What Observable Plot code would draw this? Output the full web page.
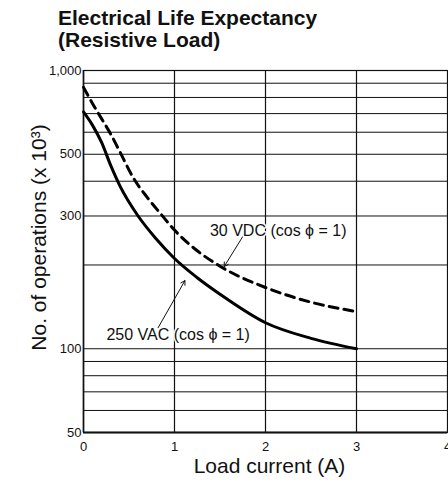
<!DOCTYPE html>
<html>
<head>
<meta charset="utf-8">
<script src="https://cdn.jsdelivr.net/npm/d3@7"></script>
<script src="https://cdn.jsdelivr.net/npm/@observablehq/plot@0.6"></script>
<style>
  html, body { margin: 0; padding: 0; background: #fff; }
  #title { font-family: "Liberation Sans", Arial, Helvetica, sans-serif; font-weight: bold;
           font-size: 21px; line-height: 22px; padding: 7px 0 0 58px; height: 42px; color: #111; }
  svg { display: block; }
</style>
</head>
<body>
<div id="title">Electrical Life Expectancy<br>(Resistive Load)</div>
<div id="chart"></div>
<script>
// Data
const acCurrent = [0, 0.1, 0.2, 0.3, 0.4, 0.6, 0.8, 1, 1.25, 1.5, 2, 2.5, 3];
const acOps     = [710, 635, 550, 455, 385, 300, 248, 211, 180, 157, 124, 109, 100];
const dcCurrent = [0, 0.1, 0.2, 0.3, 0.4, 0.55, 0.7, 0.85, 1, 1.25, 1.5, 2, 2.5, 3];
const dcOps     = [870, 760, 670, 590, 510, 410, 350, 305, 267, 225, 198, 166, 147, 136];

const xTicks = [0, 1, 2, 3, 4];
const yTickValues = [50, 70, 100, 300, 500, 700, 1000];
const yGridValues = [60, 70, 80, 90, 100, 200, 300, 400, 500, 600, 700, 800, 900];
const xGridValues = [1, 2, 3];

const seriesLabels = ["250 VAC (cos \u03d5 = 1)", "30 VDC (cos \u03d5 = 1)"];
const labelX = [1.04, 2.14];
const labelY = [112, 265];
const leaderFromX = [0.82, 1.75];
const leaderFromY = [119, 253];
const leaderToX = [1.12, 1.54];
const leaderToY = [177, 196];

const ac = acCurrent.map((x, i) => ({x, y: acOps[i]}));
const dc = dcCurrent.map((x, i) => ({x, y: dcOps[i]}));
const labels = seriesLabels.map((t, i) => ({t, x: labelX[i], y: labelY[i]}));
const leaders = seriesLabels.map((t, i) => ({x1: leaderFromX[i], y1: leaderFromY[i], x2: leaderToX[i], y2: leaderToY[i]}));

const font = "'Liberation Sans', Arial, Helvetica, sans-serif";

const chart = Plot.plot({
  width: 448,
  height: 434,
  marginTop: 21,
  marginLeft: 83,
  marginRight: 1,
  marginBottom: 51,
  style: {fontFamily: font, background: "#fff", color: "#111"},
  x: {domain: [0, 4]},
  y: {type: "log", domain: [50, 1000]},
  marks: [
    Plot.gridY(yGridValues, {stroke: "#111", strokeOpacity: 1, strokeWidth: 1}),
    Plot.gridX(xGridValues, {stroke: "#111", strokeOpacity: 1, strokeWidth: 1.2}),
    Plot.frame({stroke: "#111", strokeWidth: 1.2}),
    Plot.ruleY([50], {stroke: "#111", strokeWidth: 2.2}),
    Plot.ruleX([0], {stroke: "#111", strokeWidth: 1.6}),
    Plot.axisX(xTicks, {tickSize: 0, tickPadding: 9, fontSize: 13, label: null, tickFormat: d => d}),
    Plot.axisY(yTickValues, {tickSize: 0, tickPadding: 2, fontSize: 13, label: null,
      tickFormat: d => d3.format(",")(d)}),
    Plot.text(["Load current (A)"], {frameAnchor: "bottom", lineAnchor: "middle", textAnchor: "middle",
      dx: 4, dy: 34, fontSize: 21, fill: "#111"}),
    Plot.text(["No. of operations (x 10\u00b3)"], {frameAnchor: "left", textAnchor: "middle", lineAnchor: "middle",
      rotate: -90, dx: -44, dy: -14, fontSize: 21, fill: "#111"}),
    Plot.line(ac, {x: "x", y: "y", stroke: "#000", strokeWidth: 3, curve: "monotone-x"}),
    Plot.line(dc, {x: "x", y: "y", stroke: "#000", strokeWidth: 3, strokeDasharray: "9,6", curve: "monotone-x"}),
    Plot.arrow(leaders, {x1: "x1", y1: "y1", x2: "x2", y2: "y2", stroke: "#111", strokeWidth: 1, headLength: 7, insetEnd: 1}),
    Plot.text(labels, {x: "x", y: "y", text: "t", fontSize: 16, fill: "#111",
      stroke: "#fff", strokeWidth: 3, paintOrder: "stroke"})
  ]
});
document.getElementById("chart").appendChild(chart);
</script>
</body>
</html>
